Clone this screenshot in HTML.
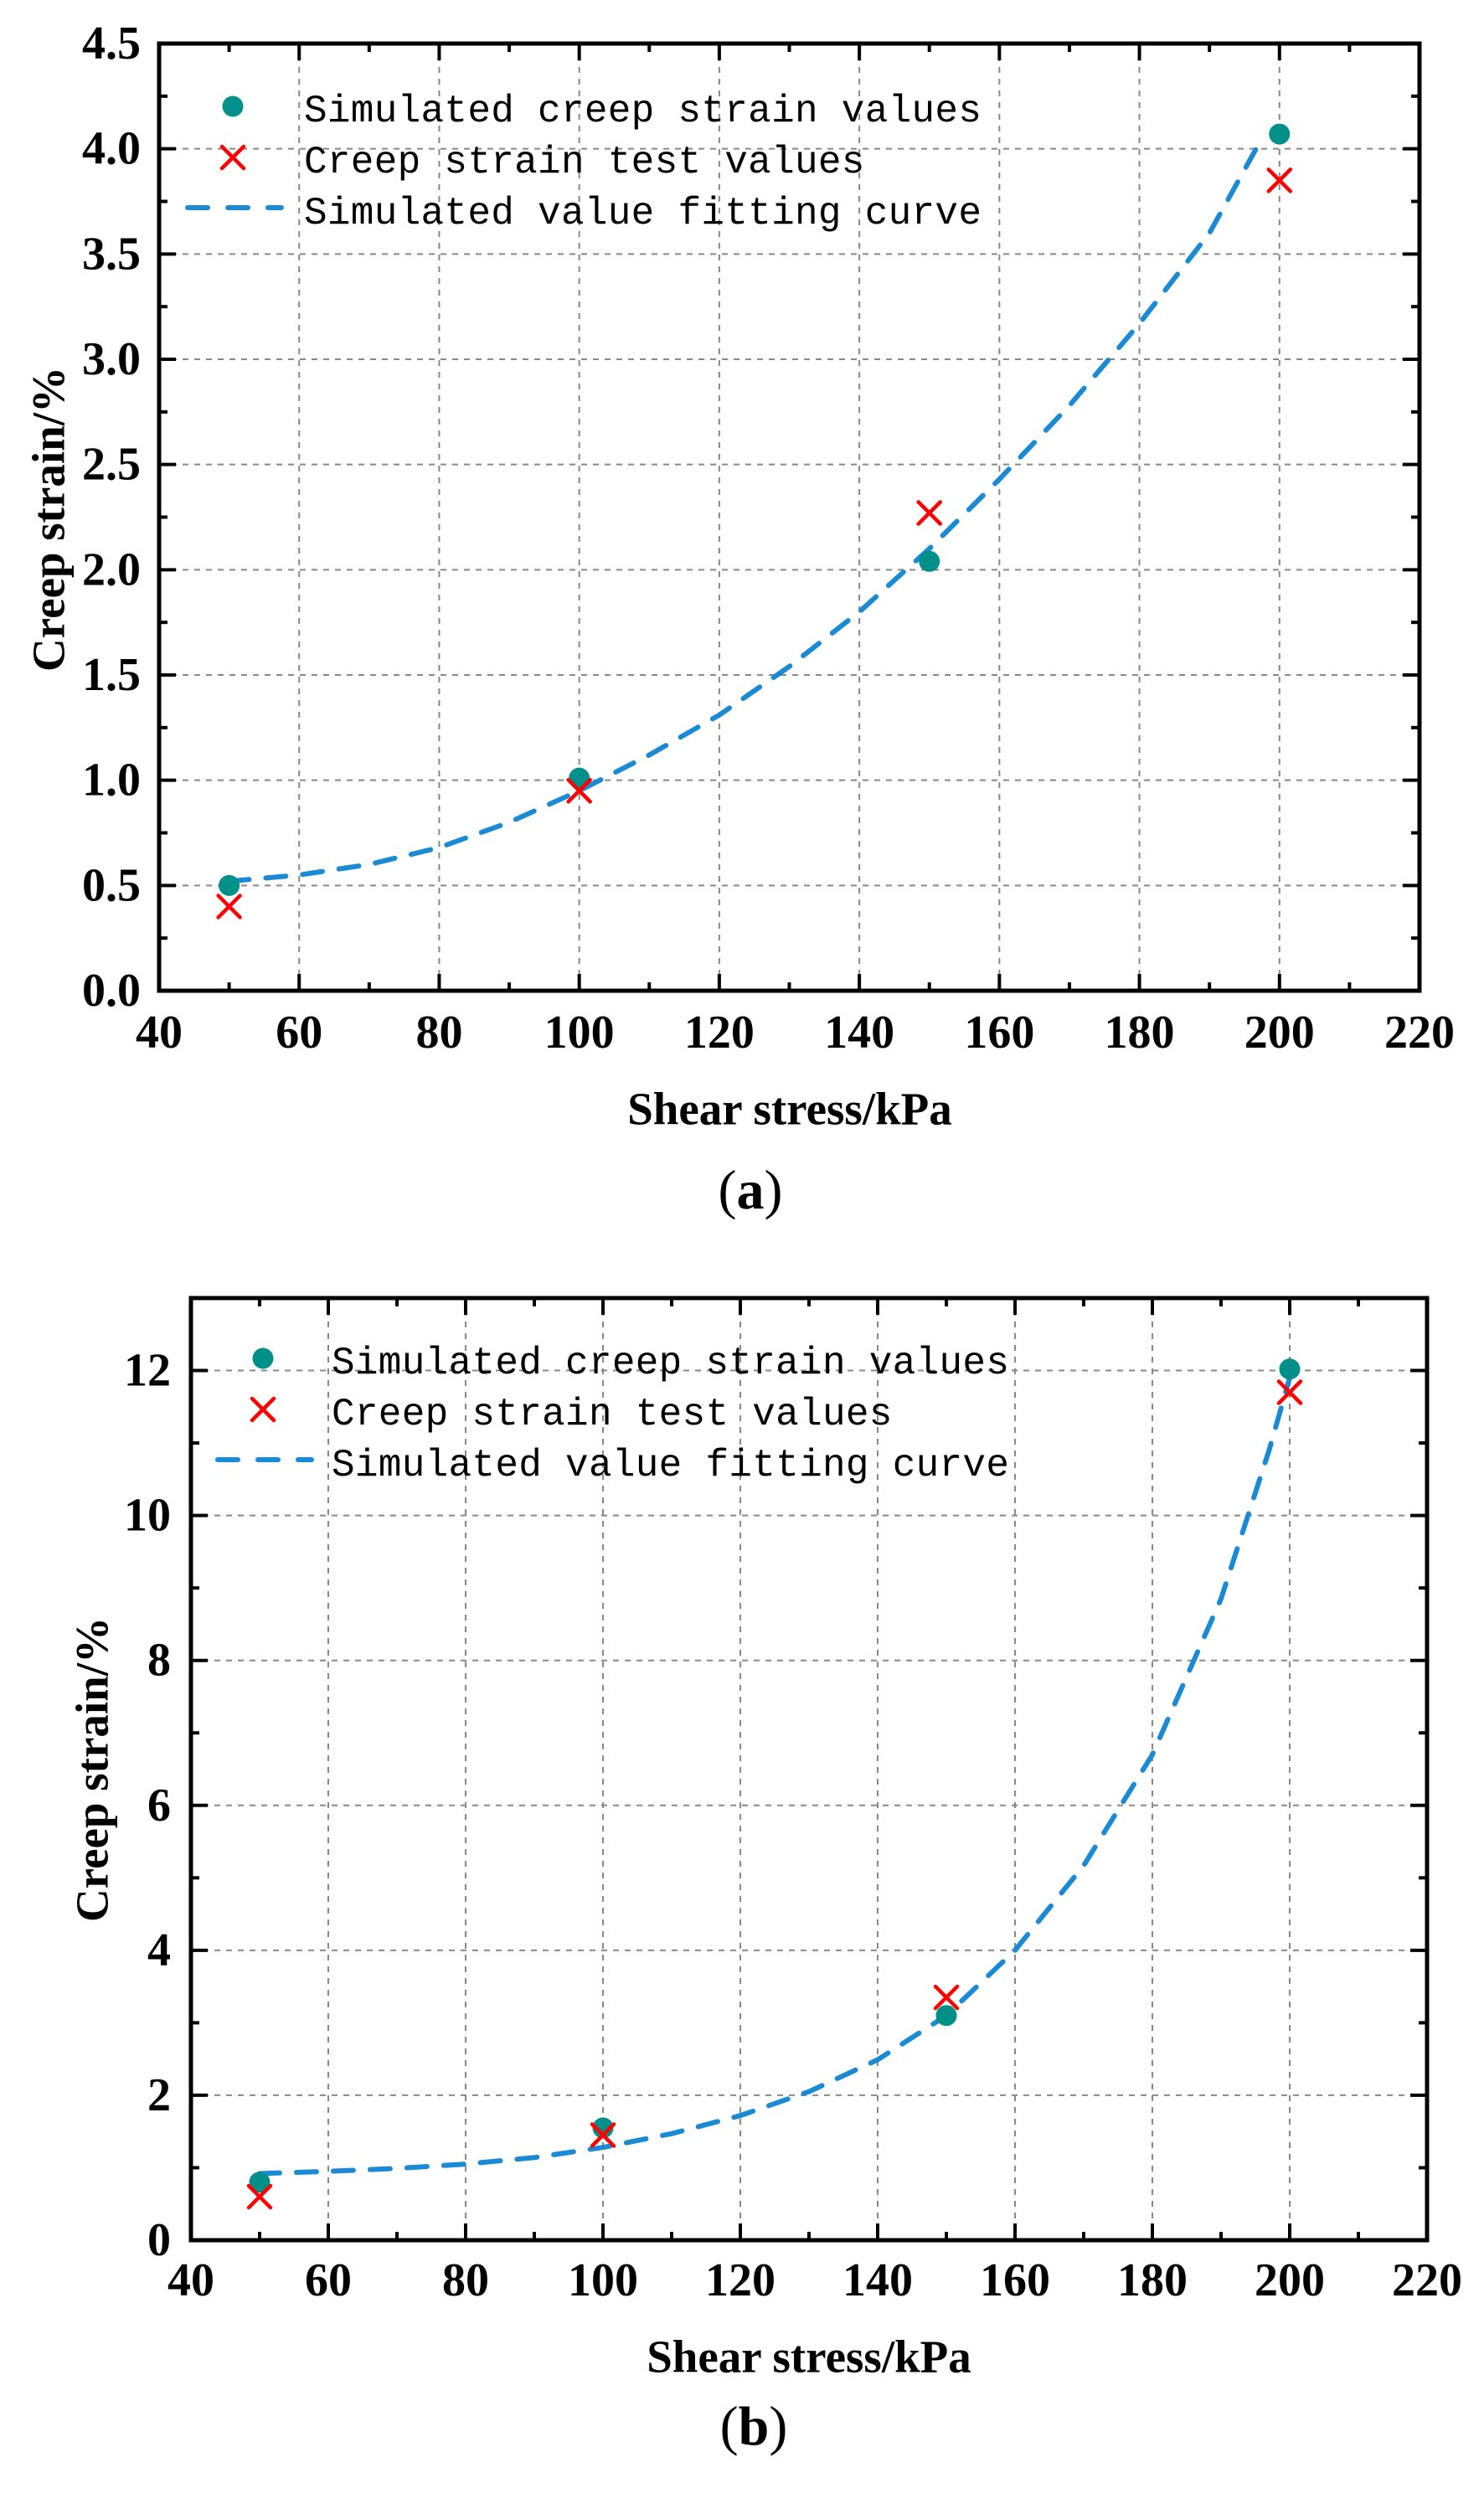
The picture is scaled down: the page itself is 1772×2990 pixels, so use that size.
<!DOCTYPE html>
<html><head><meta charset="utf-8">
<style>
html,body{margin:0;padding:0;background:#fff;}
svg{display:block;}
.tk{font-family:"Liberation Serif",serif;font-weight:bold;font-size:56px;fill:#000;}
.ttl{font-family:"Liberation Serif",serif;font-weight:bold;font-size:55px;fill:#000;}
.lg{font-family:"Liberation Mono",monospace;font-size:46px;fill:#000;}
.cap{font-family:"Liberation Serif",serif;font-size:66px;fill:#000;}
</style></head>
<body>
<svg id="fig" width="1772" height="2990" viewBox="0 0 1772 2990" xmlns="http://www.w3.org/2000/svg">
<rect x="0" y="0" width="1772" height="2990" fill="#fff"/>
</svg>
<script>
// Chart (a)
const aStress = [50, 100, 150, 200];
const aSimulated = [0.50, 1.01, 2.04, 4.07];
const aTest = [0.40, 0.95, 2.27, 3.85];
const aCurveX = [50, 60, 70, 80, 90, 100, 110, 120, 130, 140, 150, 160, 170, 180, 190, 197];
const aCurveY = [0.52, 0.55, 0.60, 0.68, 0.80, 0.95, 1.12, 1.31, 1.54, 1.80, 2.10, 2.43, 2.78, 3.17, 3.60, 4.02];
const aYTicks = ["0.0","0.5","1.0","1.5","2.0","2.5","3.0","3.5","4.0","4.5"];
const aXTicks = ["40","60","80","100","120","140","160","180","200","220"];
// Chart (b)
const bStress = [50, 100, 150, 200];
const bSimulated = [0.80, 1.55, 3.10, 12.02];
const bTest = [0.60, 1.45, 3.35, 11.70];
const bCurveX = [50, 60, 70, 80, 90, 100, 110, 120, 130, 140, 150, 160, 170, 180, 190, 197, 200];
const bCurveY = [0.92, 0.95, 0.99, 1.05, 1.14, 1.28, 1.47, 1.72, 2.05, 2.49, 3.10, 4.00, 5.17, 6.70, 8.85, 10.9, 11.9];
const bYTicks = ["0","2","4","6","8","10","12"];
const bXTicks = ["40","60","80","100","120","140","160","180","200","220"];

const NS = "http://www.w3.org/2000/svg";
const svg = document.getElementById("fig");
function el(tag, attrs, parent){
  const e = document.createElementNS(NS, tag);
  for (const k in attrs) e.setAttribute(k, attrs[k]);
  (parent||svg).appendChild(e);
  return e;
}

function drawChart(o){
  const g = el("g", {});
  
  
  const sx = v => o.L + (v - o.xmin) / (o.xmax - o.xmin) * (o.R - o.L);
  const sy = v => o.B - (v - o.ymin) / (o.ymax - o.ymin) * (o.B - o.T);
  for (let i = 1; i < o.xt.length - 1; i++) {
    const v = parseFloat(o.xt[i]);
    const gl = el("line", {x1:sx(v), x2:sx(v), y1:o.T, y2:o.B, stroke:"#888", "stroke-width":2, "stroke-dasharray":"7 7"}, g);
    
    
  }
  for (let i = 1; i < o.yt.length; i++) {
    const v = parseFloat(o.yt[i]);
    if (v >= o.ymax) continue;
    const gl = el("line", {x1:o.L, x2:o.R, y1:sy(v), y2:sy(v), stroke:"#888", "stroke-width":2, "stroke-dasharray":"7 7"}, g);
    
    
  }
  const xs = parseFloat(o.xt[1]) - parseFloat(o.xt[0]);
  for (let v = o.xmin; v <= o.xmax + 1e-9; v += xs / 2) {
    const major = Math.abs(((v - o.xmin) / xs) - Math.round((v - o.xmin) / xs)) < 1e-6;
    const len = major ? 20 : 10;
    el("line", {x1:sx(v), x2:sx(v), y1:o.B, y2:o.B - len, stroke:"#000", "stroke-width":4}, g);
    el("line", {x1:sx(v), x2:sx(v), y1:o.T, y2:o.T + len, stroke:"#000", "stroke-width":4}, g);
  }
  const ys = parseFloat(o.yt[1]) - parseFloat(o.yt[0]);
  for (let v = o.ymin; v <= o.ymax + 1e-9; v += ys / 2) {
    const major = Math.abs(((v - o.ymin) / ys) - Math.round((v - o.ymin) / ys)) < 1e-6;
    const len = major ? 20 : 10;
    el("line", {x1:o.L, x2:o.L + len, y1:sy(v), y2:sy(v), stroke:"#000", "stroke-width":4}, g);
    el("line", {x1:o.R, x2:o.R - len, y1:sy(v), y2:sy(v), stroke:"#000", "stroke-width":4}, g);
  }
  const fr = el("rect", {x:o.L, y:o.T, width:o.R - o.L, height:o.B - o.T, fill:"none", stroke:"#000", "stroke-width":5}, g);
  
  
  o.xt.forEach(t => {
    const tx = el("text", {x:sx(parseFloat(t)), y:o.xlabY, "text-anchor":"middle", "dominant-baseline":"central", class:"tk"}, g);
    tx.textContent = t;
    
    
  });
  o.yt.forEach(t => {
    const tx = el("text", {x:o.ylabR, y:sy(parseFloat(t)), "text-anchor":"end", "dominant-baseline":"central", class:"tk"}, g);
    tx.textContent = t;
    
    
  });
  const xtl = el("text", {x:o.xTitleX, y:o.xTitleY, "text-anchor":"middle", "dominant-baseline":"central", class:"ttl"}, g);
  xtl.textContent = "Shear stress/kPa";
  
  
  const ytl = el("text", {x:0, y:0, "text-anchor":"middle", "dominant-baseline":"central", class:"ttl", transform:"translate(" + o.yTitleX + "," + o.yTitleY + ") rotate(-90)"}, g);
  ytl.textContent = "Creep strain/%";
  
  
  let d = "";
  o.cx.forEach((v, i) => { d += (i ? " L" : "M") + sx(v).toFixed(1) + " " + sy(o.cy[i]).toFixed(1); });
  const cv = el("path", {d:d, fill:"none", stroke:"#1a8ad4", "stroke-width":6, "stroke-dasharray":"24 20", "stroke-linecap":"round", "stroke-linejoin":"round"}, g);
  
  
  o.px.forEach((v, i) => {
    const c = el("circle", {cx:sx(v), cy:sy(o.sim[i]), r:12.5, fill:"#009089"}, g);
    
    
  });
  o.px.forEach((v, i) => {
    const x = sx(v), y = sy(o.test[i]), s = 13;
    const p = el("path", {d:"M"+(x-s)+" "+(y-s)+" L"+(x+s)+" "+(y+s)+" M"+(x+s)+" "+(y-s)+" L"+(x-s)+" "+(y+s), stroke:"#ff0000", "stroke-width":4.5, "stroke-linecap":"round", fill:"none"}, g);
    
    
  });
  const lg = el("g", {}, g);
  
  
  const lc = el("circle", {cx:o.lgX, cy:o.lgY, r:12.5, fill:"#009089"}, lg);
  
  
  const lx = o.lgX, ly = o.lgY + 61, s = 13;
  const lxm = el("path", {d:"M"+(lx-s)+" "+(ly-s)+" L"+(lx+s)+" "+(ly+s)+" M"+(lx+s)+" "+(ly-s)+" L"+(lx-s)+" "+(ly+s), stroke:"#ff0000", "stroke-width":4.5, "stroke-linecap":"round", fill:"none"}, lg);
  
  
  const ll = el("line", {x1:o.lgX - 54, x2:o.lgX + 58, y1:o.lgY + 121, y2:o.lgY + 121, stroke:"#1a8ad4", "stroke-width":6, "stroke-dasharray":"24 24", "stroke-linecap":"round"}, lg);
  
  
  const labels = ["Simulated creep strain values", "Creep strain test values", "Simulated value fitting curve"];
  labels.forEach((t, i) => {
    const tx = el("text", {x:o.lgTextX, y:o.lgY + 18 + i * 61, class:"lg", "letter-spacing":"0.3"}, lg);
    tx.textContent = t;
    
    
  });
  const cap = el("text", {x:o.capX, y:o.capY, "text-anchor":"middle", "dominant-baseline":"central", class:"cap"}, g);
  cap.innerHTML = '(<tspan font-weight="bold">' + o.cap + '</tspan>)';
  
  
}

drawChart({name:"chart-a", L:190, R:1695, T:52, B:1183, xmin:40, xmax:220, ymin:0, ymax:4.5,
  xt:aXTicks, yt:aYTicks, px:aStress, sim:aSimulated, test:aTest, cx:aCurveX, cy:aCurveY,
  xlabY:1233, ylabR:168, xTitleX:943, xTitleY:1324, yTitleX:58, yTitleY:620,
  lgX:278, lgY:127, lgTextX:363, capX:896, capY:1421, cap:"a"});

drawChart({name:"chart-b", L:228, R:1704, T:1550, B:2675, xmin:40, xmax:220, ymin:0, ymax:13,
  xt:bXTicks, yt:bYTicks, px:bStress, sim:bSimulated, test:bTest, cx:bCurveX, cy:bCurveY,
  xlabY:2723, ylabR:204, xTitleX:966, xTitleY:2814, yTitleX:110, yTitleY:2113,
  lgX:314, lgY:1622, lgTextX:396, capX:900, capY:2897, cap:"b"});
</script>
</body></html>
